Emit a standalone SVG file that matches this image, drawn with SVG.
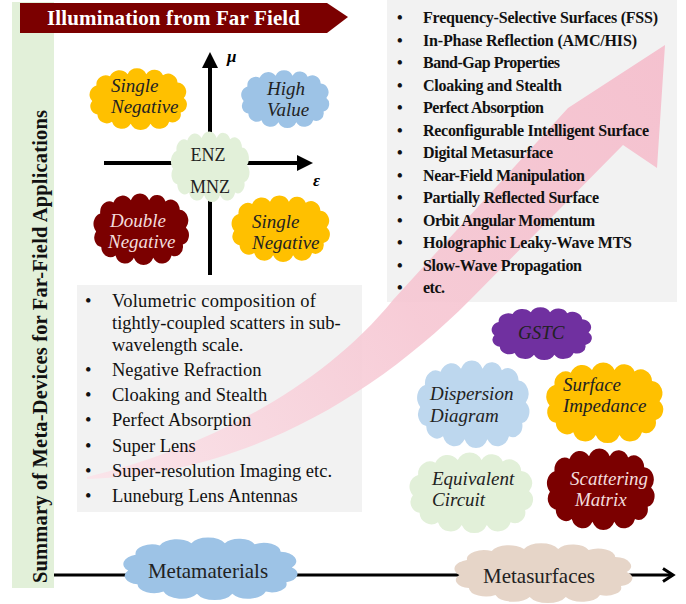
<svg xmlns="http://www.w3.org/2000/svg" xmlns:xlink="http://www.w3.org/1999/xlink" width="686" height="604" viewBox="0 0 686 604">
<style>
text{font-family:"Liberation Serif","Times New Roman",serif;}
.ct{font-size:19px;font-style:italic;fill:#222;}
.ctl{font-size:19px;font-style:italic;fill:#f3dcdc;}
.rl{font-size:16px;font-weight:bold;fill:#111;}
.ll{font-size:18.5px;fill:#111;}
.ax{stroke:#000;stroke-width:4;fill:none;}
</style>
<defs>
<symbol id="cloud" viewBox="0 0 100 60" preserveAspectRatio="none" overflow="visible">
<path d="M6,32 A9,9 0 0 1 10,17 A9,9 0 0 1 23,8 A10,10 0 0 1 40,6 A10,10 0 0 1 58,6 A9,9 0 0 1 74,7 A9,9 0 0 1 88,14 A9,9 0 0 1 94,29 A8,8 0 0 1 91,43 A8,8 0 0 1 80,52 A10,10 0 0 1 62,54 A10.5,10.5 0 0 1 43,54 A10,10 0 0 1 25,52 A9,9 0 0 1 11,45 A8,8 0 0 1 6,32 Z"/>
</symbol>
<marker id="tri" markerUnits="userSpaceOnUse" markerWidth="16" markerHeight="16" viewBox="0 0 16 16" refX="0" refY="8" orient="auto">
<path d="M0,0 L16,8 L0,16 Z" fill="#000"/>
</marker>
<marker id="open" markerUnits="userSpaceOnUse" markerWidth="16" markerHeight="16" viewBox="0 0 16 16" refX="13" refY="8" orient="auto">
<path d="M3,1.5 L13,8 L3,14.5" fill="none" stroke="#000" stroke-width="3"/>
</marker>
<linearGradient id="pinkg" gradientUnits="userSpaceOnUse" x1="87" y1="477" x2="665" y2="45">
<stop offset="0" stop-color="#fbe3e9"/>
<stop offset="0.5" stop-color="#f6c6d2"/>
<stop offset="1" stop-color="#f5bccb"/>
</linearGradient>
</defs>

<rect width="686" height="604" fill="#fff"/>

<g id="side-bar">
<rect x="12" y="2" width="42" height="586" fill="#e2f0d9"/>
<text transform="translate(47,583) rotate(-90)" font-size="20.5" font-weight="bold" fill="#111" textLength="473" lengthAdjust="spacing">Summary of Meta-Devices for Far-Field Applications</text>
</g>

<g id="banner">
<polygon points="20,3 327,3 348,17 327,33 20,33" fill="#7b0000"/>
<text x="47" y="25" font-size="21" font-weight="bold" fill="#fff" textLength="253" lengthAdjust="spacing">Illumination from Far Field</text>
</g>

<g id="boxes">
<rect id="box-right" x="387" y="0" width="290" height="302" fill="#f2f2f2"/>
<rect id="box-left" x="77" y="285" width="285" height="227" fill="#f2f2f2"/>
</g>

<g id="pink-arrow">
<path d="M87,477 C200,450 320,390 393,300 L568,108 L665,45 L657,168 L623,145 L470,300 C370,400 240,475 87,479 Z" fill="url(#pinkg)" opacity="0.9"/>
</g>

<g id="list-right">
<text class="rl" x="397" y="23">•</text><text class="rl" x="423" y="23" textLength="235" lengthAdjust="spacing">Frequency-Selective Surfaces (FSS)</text>
<text class="rl" x="397" y="45.5">•</text><text class="rl" x="423" y="45.5" textLength="214" lengthAdjust="spacing">In-Phase Reflection (AMC/HIS)</text>
<text class="rl" x="397" y="68">•</text><text class="rl" x="423" y="68" textLength="137" lengthAdjust="spacing">Band-Gap Properties</text>
<text class="rl" x="397" y="90.5">•</text><text class="rl" x="423" y="90.5" textLength="139" lengthAdjust="spacing">Cloaking and Stealth</text>
<text class="rl" x="397" y="113">•</text><text class="rl" x="423" y="113" textLength="121" lengthAdjust="spacing">Perfect Absorption</text>
<text class="rl" x="397" y="135.5">•</text><text class="rl" x="423" y="135.5" textLength="226" lengthAdjust="spacing">Reconfigurable Intelligent Surface</text>
<text class="rl" x="397" y="158">•</text><text class="rl" x="423" y="158" textLength="130" lengthAdjust="spacing">Digital Metasurface</text>
<text class="rl" x="397" y="180.5">•</text><text class="rl" x="423" y="180.5" textLength="162" lengthAdjust="spacing">Near-Field Manipulation</text>
<text class="rl" x="397" y="203">•</text><text class="rl" x="423" y="203" textLength="176" lengthAdjust="spacing">Partially Reflected Surface</text>
<text class="rl" x="397" y="225.5">•</text><text class="rl" x="423" y="225.5" textLength="172" lengthAdjust="spacing">Orbit Angular Momentum</text>
<text class="rl" x="397" y="248">•</text><text class="rl" x="423" y="248" textLength="209" lengthAdjust="spacing">Holographic Leaky-Wave MTS</text>
<text class="rl" x="397" y="270.5">•</text><text class="rl" x="423" y="270.5" textLength="159" lengthAdjust="spacing">Slow-Wave Propagation</text>
<text class="rl" x="397" y="293">•</text><text class="rl" x="423" y="293" textLength="22" lengthAdjust="spacing">etc.</text>
</g>

<g id="list-left">
<text class="ll" x="85" y="307">•</text><text class="ll" x="112" y="307" textLength="204" lengthAdjust="spacing">Volumetric composition of</text>
<text class="ll" x="112" y="329">tightly-coupled scatters in sub-</text>
<text class="ll" x="112" y="351">wavelength scale.</text>
<text class="ll" x="85" y="376">•</text><text class="ll" x="112" y="376">Negative Refraction</text>
<text class="ll" x="85" y="401">•</text><text class="ll" x="112" y="401">Cloaking and Stealth</text>
<text class="ll" x="85" y="426">•</text><text class="ll" x="112" y="426">Perfect Absorption</text>
<text class="ll" x="85" y="452">•</text><text class="ll" x="112" y="452">Super Lens</text>
<text class="ll" x="85" y="477">•</text><text class="ll" x="112" y="477">Super-resolution Imaging etc.</text>
<text class="ll" x="85" y="502">•</text><text class="ll" x="112" y="502">Luneburg Lens Antennas</text>
</g>

<g id="connectors">
<line class="ax" x1="210" y1="275" x2="210" y2="68" marker-end="url(#tri)"/>
<line class="ax" x1="104" y1="163" x2="297" y2="163" marker-end="url(#tri)"/>
<line x1="54" y1="575" x2="673" y2="575" stroke="#000" stroke-width="3" marker-end="url(#open)"/>
</g>

<g id="axis-labels">
<text x="227" y="62" font-size="17" font-weight="bold" font-style="italic" fill="#000">μ</text>
<text x="313" y="186" font-size="17" font-weight="bold" font-style="italic" fill="#000">ε</text>
</g>

<g id="single-negative-1">
<use href="#cloud" x="86" y="68" width="104" height="62" fill="#ffc000"/>
<text class="ct" x="111" y="92">Single</text>
<text class="ct" x="111" y="113">Negative</text>
</g>

<g id="high-value">
<use href="#cloud" x="238" y="70" width="94" height="58" fill="#9dc3e6"/>
<text class="ct" x="267" y="95">High</text>
<text class="ct" x="267" y="116">Value</text>
</g>

<g id="enz-mnz">
<use href="#cloud" x="168" y="131" width="84" height="71" fill="#e2f0d9"/>
<text x="208" y="161" font-size="18" fill="#222" text-anchor="middle">ENZ</text>
<text x="210" y="193" font-size="18" fill="#222" text-anchor="middle">MNZ</text>
</g>

<g id="double-negative">
<use href="#cloud" x="90" y="193" width="102" height="72" fill="#7b0000"/>
<text class="ctl" x="110" y="227">Double</text>
<text class="ctl" x="108" y="248">Negative</text>
</g>

<g id="single-negative-2">
<use href="#cloud" x="228" y="195" width="105" height="67" fill="#ffc000"/>
<text class="ct" x="252" y="228">Single</text>
<text class="ct" x="252" y="249">Negative</text>
</g>

<g id="gstc">
<use href="#cloud" x="488" y="307" width="107" height="53" fill="#7030a0"/>
<text class="ct" x="518" y="339">GSTC</text>
</g>

<g id="dispersion-diagram">
<use href="#cloud" x="413" y="360" width="120" height="88" fill="#bdd7ee"/>
<text class="ct" x="430" y="400">Dispersion</text>
<text class="ct" x="430" y="422">Diagram</text>
</g>

<g id="surface-impedance">
<use href="#cloud" x="542" y="362" width="125" height="81" fill="#ffc000"/>
<text class="ct" x="563" y="391">Surface</text>
<text class="ct" x="563" y="412">Impedance</text>
</g>

<g id="equivalent-circuit">
<use href="#cloud" x="405" y="452" width="132" height="81" fill="#e2f0d9"/>
<text class="ct" x="432" y="485">Equivalent</text>
<text class="ct" x="432" y="506">Circuit</text>
</g>

<g id="scattering-matrix">
<use href="#cloud" x="543" y="448" width="115" height="82" fill="#7b0000"/>
<text class="ctl" x="570" y="485">Scattering</text>
<text class="ctl" x="575" y="506">Matrix</text>
</g>

<g id="metamaterials">
<use href="#cloud" x="117" y="537" width="186" height="63" fill="#9dc3e6"/>
<text x="208" y="578" font-size="21" fill="#222" text-anchor="middle">Metamaterials</text>
</g>

<g id="metasurfaces">
<use href="#cloud" x="448" y="543" width="190" height="60" fill="#e6d5c8"/>
<text x="539" y="583" font-size="21" fill="#222" text-anchor="middle">Metasurfaces</text>
</g>
</svg>
